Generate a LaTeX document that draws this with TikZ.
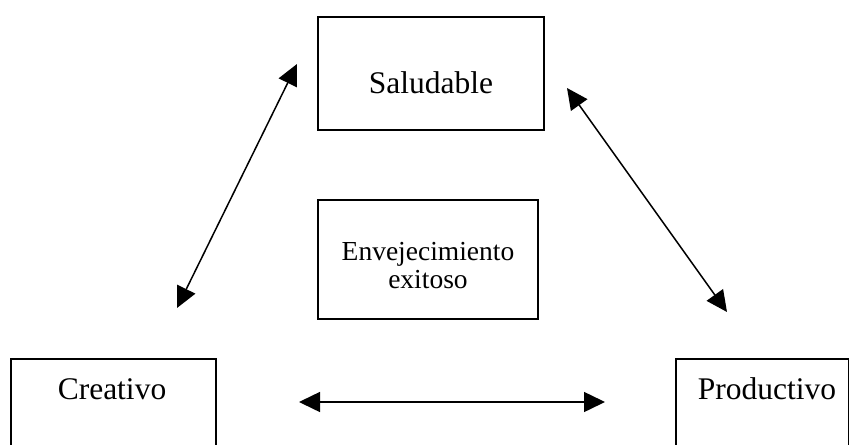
\documentclass[tikz,border=0pt]{standalone}
\usepackage{fontspec}
\setmainfont{Liberation Serif}
\usetikzlibrary{arrows.meta}
\tikzset{
  box/.style={draw=black, line width=0.75pt, rectangle, inner sep=0pt},
  lbl/.style={anchor=base, inner sep=0pt, font=\fontsize{15.75}{18}\selectfont},
  slbl/.style={anchor=base, inner sep=0pt, font=\fontsize{13.75}{15}\selectfont},
  conn/.style={line width=0.75pt, {Triangle[length=10.5pt,width=10pt]}-{Triangle[length=10.5pt,width=10pt]}}
}
\begin{document}
\begin{tikzpicture}[x=0.5pt,y=-0.5pt]
\useasboundingbox (0,0) rectangle (850,444);
\clip (0,0) rectangle (850,444);
\fill[white] (0,0) rectangle (850,444);
% boxes
\node[box, minimum width=113pt, minimum height=56.5pt] (sal) at (431,73.5) {};
\node[lbl] (saltxt) at (431,94) {Saludable};
\node[box, minimum width=110pt, minimum height=59.5pt] (env) at (428,259.5) {};
\node[slbl] (envtxt1) at (428,260) {Envejecimiento};
\node[slbl] (envtxt2) at (428,288) {exitoso};
\node[box, minimum width=102.5pt, minimum height=60pt] (cre) at (113.5,419) {};
\node[lbl] (cretxt) at (112,399) {Creativo};
\node[box, minimum width=86.25pt, minimum height=60pt] (pro) at (762.25,419) {};
\node[lbl] (protxt) at (767,399) {Productivo};
% connector ends
\coordinate (a1) at (297,64);
\coordinate (a2) at (177,308);
\coordinate (b1) at (567,88);
\coordinate (b2) at (727,312);
\coordinate (c1) at (299,402);
\coordinate (c2) at (605,402);
\draw[conn] (a2) -- (a1);
\draw[conn] (b1) -- (b2);
\draw[conn] (c1) -- (c2);
\end{tikzpicture}
\end{document}
